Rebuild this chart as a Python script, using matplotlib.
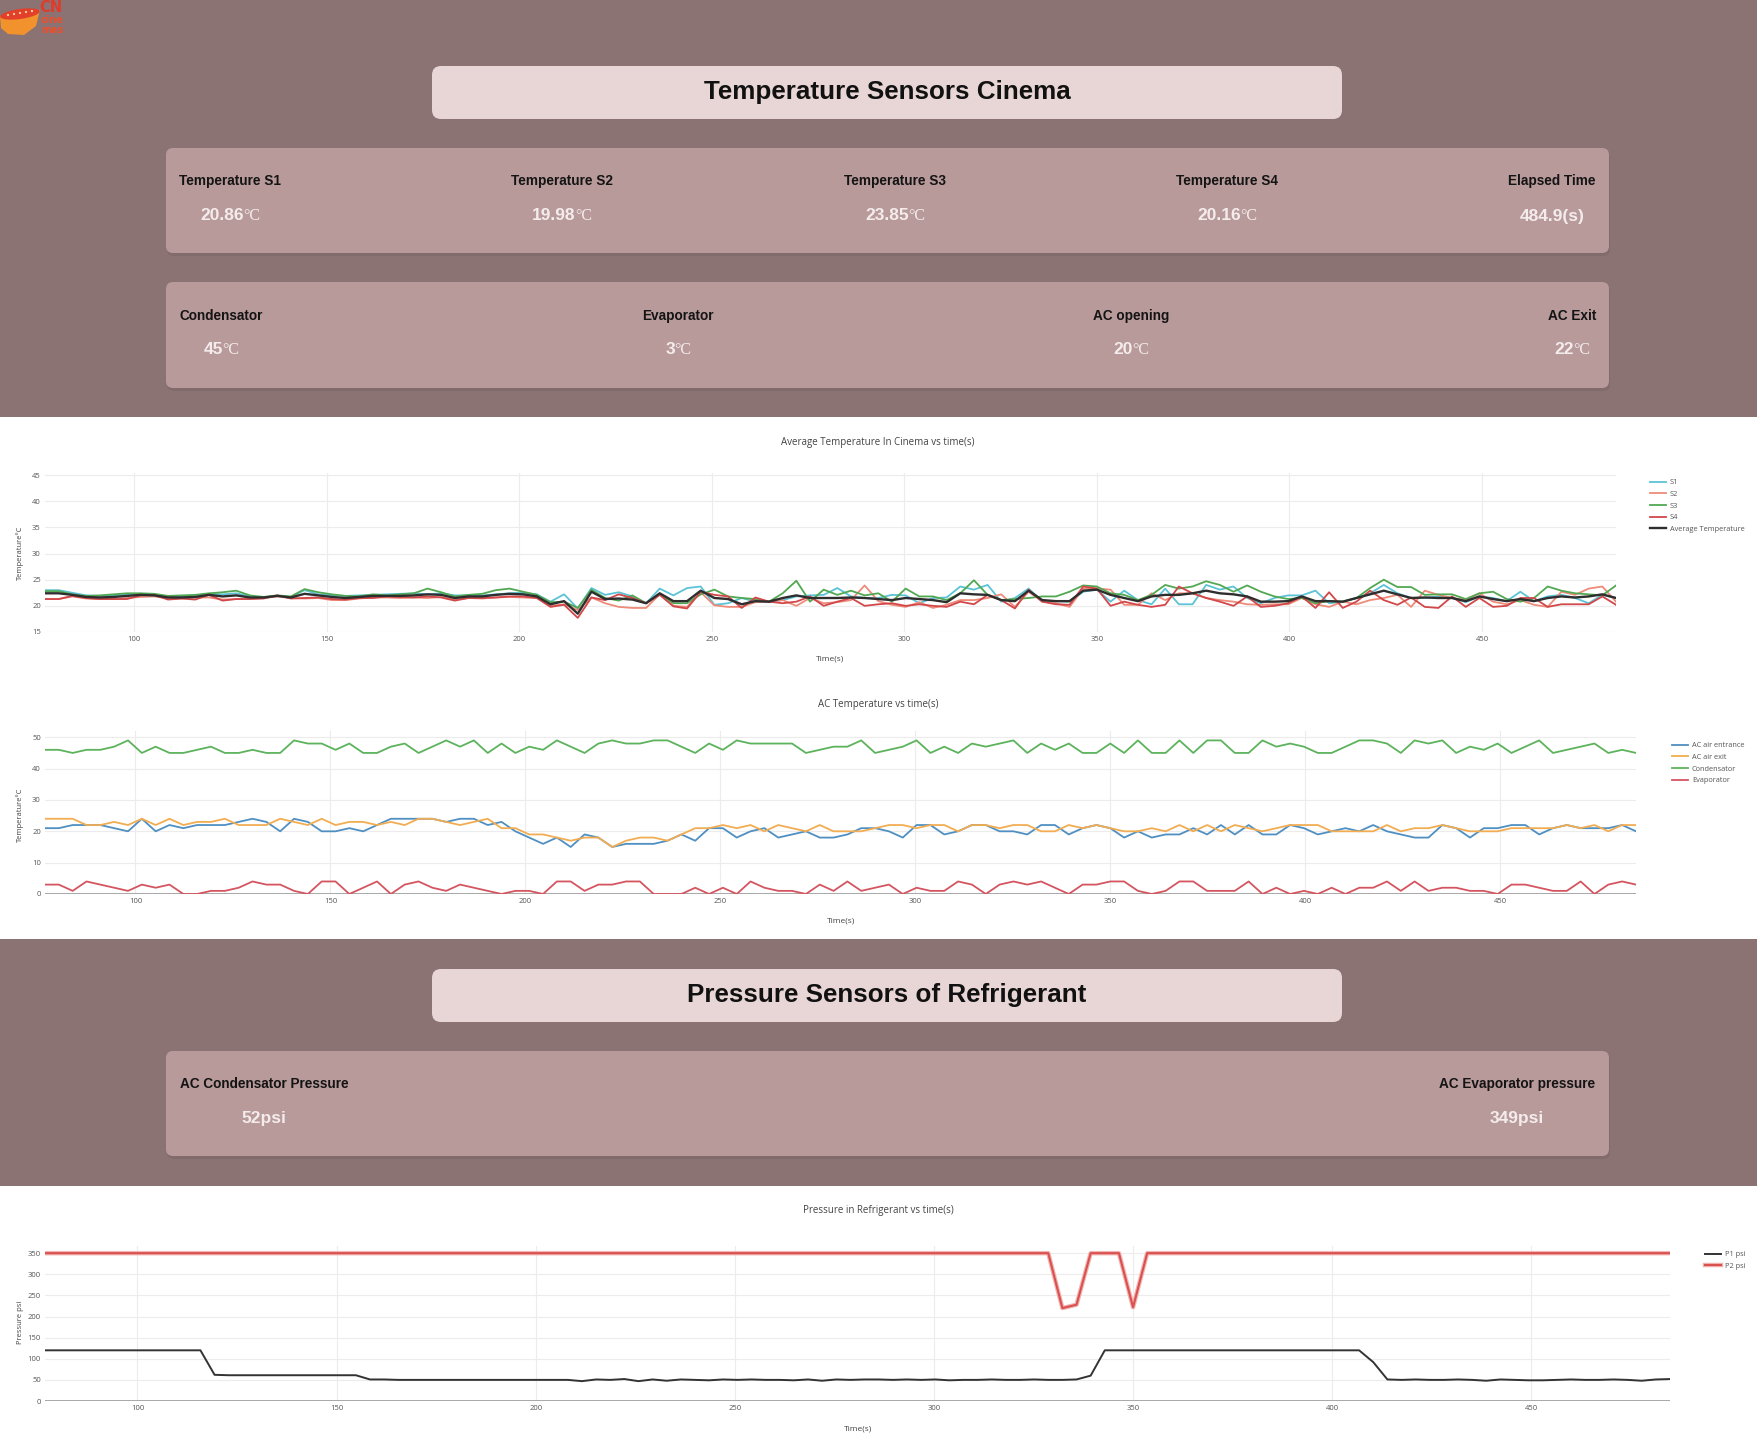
"""Cinema AC monitoring dashboard: sensor cards plus three time-series panels."""
import matplotlib
matplotlib.use("Agg")
import matplotlib.pyplot as plt
import matplotlib.patheffects as pe
import numpy as np
from matplotlib.patches import FancyBboxPatch, Polygon, Circle, Ellipse

W, H = 1757, 1447
BROWN = "#8b7373"
CARD = "#b99a9a"
TITLE_BOX = "#e8d5d5"
VALUE_COLOR = "#f4ecec"
AXIS_TEXT = "#555555"

# sample clock of the logger (s)
T_START, T_END, N_SAMPLES = 76.8, 484.8, 116
TIME_S = np.linspace(T_START, T_END, N_SAMPLES)
X_TICKS = [100, 150, 200, 250, 300, 350, 400, 450]

# header cards
TEMP_LABELS = ["Temperature S1", "Temperature S2", "Temperature S3", "Temperature S4", "Elapsed Time"]
TEMP_VALUES = ["20.86", "19.98", "23.85", "20.16", "484.9(s)"]
AC_LABELS = ["Condensator", "Evaporator", "AC opening", "AC Exit"]
AC_VALUES = ["45", "3", "20", "22"]
PRESSURE_LABELS = ["AC Condensator Pressure", "AC Evaporator pressure"]
PRESSURE_VALUES = ["52psi", "349psi"]

# cinema temperature sensors (degC)
S1 = [23.0, 23.0, 22.5, 22.0, 21.9, 22.0, 22.2, 22.3, 22.0, 21.8, 21.8, 22.0, 22.3, 22.2, 22.4, 21.8,
      21.6, 21.9, 21.7, 23.0, 22.2, 22.0, 21.9, 22.0, 22.1, 22.2, 22.3, 22.4, 22.2, 22.4, 22.0,
      22.0, 22.0, 22.2, 22.4, 22.5, 22.2, 20.8, 22.2, 19.5, 23.4, 22.1, 22.6, 21.8, 20.5, 23.3,
      22.0, 23.4, 23.7, 20.2, 20.5, 21.5, 20.8, 20.8, 21.1, 21.8, 22.0, 22.1, 23.4, 21.8,
      21.5, 21.5, 22.1, 22.0, 20.5, 21.5, 21.6, 23.7, 23.1, 24.0, 20.8, 21.5, 23.3, 20.9, 20.9,
      20.8, 22.7, 23.1, 20.8, 22.9, 21.1, 20.3, 23.3, 20.3, 20.3, 24.0, 23.1, 23.7, 21.5,
      20.5, 21.5, 22.0, 22.0, 22.9, 20.5, 20.8, 21.5, 22.4, 24.0, 22.4, 21.5, 21.5, 21.8, 21.5,
      20.7, 21.8, 21.5, 20.9, 22.7, 20.9, 21.8, 22.1, 21.5, 20.5, 22.1, 21.5]
S2 = [21.3, 21.3, 21.8, 21.4, 21.3, 21.3, 21.5, 21.7, 21.8, 21.4, 21.4, 21.6, 21.6, 21.2, 21.3, 21.4,
      21.5, 21.8, 21.5, 21.4, 21.5, 21.1, 21.1, 21.4, 21.6, 21.6, 21.5, 21.6, 21.5, 21.7, 21.2,
      21.5, 21.4, 21.6, 21.7, 21.6, 21.5, 20.0, 20.3, 19.2, 21.6, 20.5, 19.8, 19.6, 19.6, 22.2,
      20.0, 19.8, 22.6, 20.1, 19.8, 19.8, 20.7, 20.8, 21.1, 20.0, 21.5, 20.5, 20.7, 21.1,
      23.9, 20.9, 20.2, 19.8, 20.7, 19.6, 20.2, 21.1, 21.1, 21.5, 22.2, 19.8, 22.7, 20.8, 20.5,
      19.8, 23.3, 23.3, 23.1, 20.2, 20.2, 22.4, 21.1, 22.4, 22.4, 21.5, 21.1, 20.8, 20.3,
      20.2, 20.3, 20.3, 21.5, 20.3, 19.8, 20.8, 20.3, 21.1, 21.5, 22.1, 19.8, 22.9, 22.1, 21.5,
      21.1, 22.4, 20.8, 20.3, 21.1, 20.2, 19.8, 22.7, 22.1, 23.3, 23.7, 20.8]
S3 = [22.8, 22.8, 22.2, 21.9, 22.0, 22.2, 22.4, 22.4, 22.3, 21.9, 22.0, 22.1, 22.4, 22.6, 22.9, 22.0,
      21.7, 22.0, 21.8, 23.2, 22.6, 22.2, 21.9, 21.8, 22.2, 22.0, 22.2, 22.4, 23.3, 22.6, 21.8,
      22.1, 22.3, 23.0, 23.3, 22.7, 22.1, 20.7, 20.8, 19.6, 23.1, 21.5, 21.0, 22.0, 20.5, 22.2,
      20.5, 20.5, 22.2, 23.1, 21.8, 21.5, 21.3, 20.8, 22.4, 24.8, 20.8, 23.1, 22.1, 22.9,
      22.0, 22.4, 20.8, 23.3, 21.8, 21.8, 21.1, 22.4, 24.9, 22.1, 21.1, 21.3, 21.5, 21.8, 21.8,
      22.7, 23.9, 23.7, 22.4, 22.1, 21.1, 22.1, 24.0, 23.3, 23.7, 24.7, 24.0, 22.7, 23.9,
      22.7, 21.8, 21.3, 21.5, 20.5, 20.9, 20.8, 21.5, 23.4, 25.0, 23.6, 23.6, 22.1, 22.2, 22.2,
      21.3, 22.4, 22.7, 21.3, 20.8, 21.5, 23.7, 22.9, 22.4, 22.2, 22.0, 23.9]
S4 = [21.3, 21.3, 21.9, 21.5, 21.3, 21.3, 21.3, 22.0, 22.1, 21.2, 21.4, 21.2, 22.1, 21.0, 21.3, 21.3,
      21.4, 22.0, 21.4, 21.5, 21.6, 21.3, 21.2, 21.5, 21.5, 21.8, 21.7, 21.6, 21.8, 21.6, 21.0,
      21.5, 21.5, 21.6, 21.8, 21.8, 21.5, 19.8, 20.2, 17.7, 21.6, 21.1, 22.2, 21.5, 20.5, 22.1,
      19.9, 19.5, 22.7, 22.1, 21.8, 19.6, 21.6, 20.8, 20.5, 20.8, 21.8, 20.0, 20.8, 21.5,
      20.0, 20.3, 20.5, 20.0, 20.3, 20.0, 19.8, 20.8, 20.3, 22.1, 21.1, 19.5, 23.1, 20.8, 20.3,
      20.2, 23.7, 23.3, 20.0, 20.8, 20.2, 19.8, 20.2, 23.7, 22.4, 21.5, 20.8, 20.0, 21.8,
      19.8, 20.0, 20.5, 21.8, 19.6, 22.6, 19.6, 20.8, 22.9, 21.1, 20.2, 21.6, 19.8, 19.6, 21.8,
      19.8, 21.5, 19.8, 20.0, 21.5, 21.5, 19.8, 20.3, 20.3, 20.3, 21.8, 20.2]
AVG_TEMP = [22.4, 22.4, 22.1, 21.7, 21.6, 21.7, 21.9, 22.1, 22.0, 21.6, 21.6, 21.7, 22.1, 21.8, 22.0,
            21.6, 21.6, 21.9, 21.6, 22.3, 22.0, 21.7, 21.5, 21.7, 21.9, 21.9, 21.9, 22.0, 22.2, 22.1,
            21.5, 21.8, 21.8, 22.1, 22.3, 22.2, 21.8, 20.3, 20.9, 18.5, 22.7, 21.3, 21.4, 21.2, 20.5,
            22.4, 20.9, 20.9, 22.9, 21.5, 21.3, 20.3, 20.9, 20.8, 21.5, 22.0, 21.5, 21.5, 21.5, 21.6,
            21.5, 21.3, 21.1, 21.5, 21.3, 21.1, 20.7, 22.4, 22.2, 22.1, 21.1, 20.9, 22.9, 21.1, 20.9,
            20.9, 22.9, 23.1, 22.1, 21.5, 20.9, 21.8, 22.1, 22.1, 22.4, 22.9, 22.4, 22.2, 21.8,
            20.8, 20.8, 20.9, 21.8, 20.9, 20.9, 20.8, 21.5, 22.2, 22.9, 22.2, 21.5, 21.6, 21.5, 21.5,
            20.9, 21.8, 21.3, 20.9, 21.3, 20.9, 21.5, 21.8, 21.6, 21.8, 22.2, 21.5]

# AC unit temperatures (degC)
AC_ENTRANCE = [21, 21, 22, 22, 22, 21, 20, 24, 20, 22, 21, 22, 22, 22, 23, 24, 23, 20, 24, 23,
               20, 20, 21, 20, 22, 24, 24, 24, 24, 23, 24, 24, 22, 23, 20, 18, 16, 18, 15, 19,
               18, 15, 16, 16, 16, 17, 19, 17, 21, 21, 18, 20, 21, 18, 19, 20, 18, 18, 19, 21,
               21, 20,
               18, 22, 22, 19, 20, 22, 22, 20, 20, 19, 22, 22, 19, 21, 22, 21, 18, 20, 18, 19,
               19, 21, 19, 22, 19, 22, 19, 19, 22, 21, 19, 20, 21, 20, 22, 20, 19, 18, 18, 22,
               21, 18, 21, 21, 22, 22, 19, 21, 22, 21, 21, 21, 22, 20]
AC_EXIT = [24, 24, 24, 22, 22, 23, 22, 24, 22, 24, 22, 23, 23, 24, 22, 22, 22, 24, 23, 22,
           24, 22, 23, 23, 22, 23, 22, 24, 24, 23, 22, 23, 24, 21, 21, 19, 19, 18, 17, 18,
           18, 15, 17, 18, 18, 17, 19, 21, 21, 22, 21, 22, 20, 22, 21, 20, 22, 20, 20, 20,
           21, 22,
           22, 21, 22, 22, 20, 22, 22, 21, 22, 22, 20, 20, 22, 21, 22, 21, 20, 20, 21, 20,
           22, 20, 22, 20, 22, 21, 20, 21, 22, 22, 22, 20, 20, 20, 20, 22, 20, 21, 21, 22,
           21, 20, 20, 20, 21, 21, 21, 21, 22, 21, 22, 20, 22, 22]
CONDENSATOR = [46, 46, 45, 46, 46, 47, 49, 45, 47, 45, 45, 46, 47, 45, 45, 46, 45, 45, 49, 48,
               48, 46, 48, 45, 45, 47, 48, 45, 47, 49, 47, 49, 45, 48, 45, 47, 46, 49, 47, 45,
               48, 49, 48, 48, 49, 49, 47, 45, 48, 46, 49, 48, 48, 48, 48, 45, 46, 47, 47, 49,
               45, 46,
               47, 49, 45, 47, 45, 48, 47, 48, 49, 45, 48, 46, 48, 45, 45, 48, 45, 49, 45, 45,
               49, 45, 49, 49, 45, 45, 49, 47, 48, 47, 45, 45, 47, 49, 49, 48, 45, 49, 48, 49,
               45, 47, 46, 48, 45, 47, 49, 45, 46, 47, 48, 45, 46, 45]
EVAPORATOR = [3, 3, 1, 4, 3, 2, 1, 3, 2, 3, 0, 0, 1, 1, 2, 4, 3, 3, 1, 0,
              4, 4, 0, 2, 4, 0, 3, 4, 2, 1, 3, 2, 1, 0, 1, 1, 0, 4, 4, 1,
              3, 3, 4, 4, 0, 0, 0, 2, 0, 2, 0, 4, 2, 1, 1, 0, 3, 1, 4, 1,
              2, 3,
              0, 2, 1, 1, 4, 3, 0, 3, 4, 3, 4, 2, 0, 3, 3, 4, 4, 1, 0, 1,
              4, 4, 1, 1, 1, 4, 0, 2, 0, 1, 0, 2, 0, 2, 2, 4, 1, 4, 1, 2,
              2, 1, 1, 0, 3, 3, 2, 1, 1, 4, 0, 3, 4, 3]

# refrigerant pressure (psi)
P1_PSI = ([120.0] * 12 + [62.0] + [61.0] * 10 + [51.0] +
          [51, 50, 50, 50, 50, 50, 50, 50, 50, 50, 50, 50, 50, 50] +
          [47, 51, 50, 52, 47, 51, 48, 51, 50, 49, 51, 50, 51, 50, 50, 49, 51, 48, 51, 50,
           51, 51, 50, 51, 50, 51, 49, 50, 50, 51, 50, 50, 51, 50, 50] +
          [51, 60] + [120.0] * 19 + [92, 51] +
          [50, 51, 50, 50, 51, 50, 48, 51, 50, 49, 49, 50, 51, 50, 50, 51, 50, 48, 51, 52])
P2_PSI = [350.0] * 72 + [220.0, 228.0] + [350.0] * 3 + [222.0] + [350.0] * 38


def px_axes(fig, left, top, right, bottom):
    return fig.add_axes([left / W, 1 - bottom / H, (right - left) / W, (bottom - top) / H])


def box(ax, x0, y0, x1, y1, color, radius=7, shadow=True):
    if shadow:
        ax.add_patch(FancyBboxPatch((x0 + 1, y0 + 3), x1 - x0, y1 - y0,
                                    boxstyle=f"round,pad=0,rounding_size={radius}",
                                    fc="#7a6464", ec="none", alpha=0.5))
    ax.add_patch(FancyBboxPatch((x0, y0), x1 - x0, y1 - y0,
                                boxstyle=f"round,pad=0,rounding_size={radius}",
                                fc=color, ec="none"))


def card_value(ax, x, y, value, unit=None):
    kw = dict(color=VALUE_COLOR, fontsize=12.5, fontweight="bold", family="Liberation Sans", va="center")
    if unit is None:
        ax.text(x, y, value, ha="center", **kw)
        return
    num = ax.text(x - 8, y, value, ha="center", **kw)
    ax.annotate(unit, xy=(1, 0.5), xycoords=num, xytext=(-0.5, 0), textcoords="offset points",
                ha="left", va="center", color=VALUE_COLOR, fontsize=11.5, family="Liberation Serif")


def style_chart(ax, ylim, yticks, zero_line):
    ax.set_facecolor("none")
    ax.set_xlim(TIME_S[0], TIME_S[-1])
    ax.set_ylim(*ylim)
    ax.set_xticks(X_TICKS)
    ax.set_yticks(yticks)
    ax.grid(True, color="#ececec", lw=0.8)
    ax.set_axisbelow(True)
    for spine in ax.spines.values():
        spine.set_visible(False)
    ax.tick_params(length=0, labelsize=5.5, labelcolor=AXIS_TEXT, pad=3)
    for lab in ax.get_xticklabels() + ax.get_yticklabels():
        lab.set_family("Open Sans")
    if zero_line:
        ax.axhline(0, color="#a8a8a8", lw=1.4, zorder=1)


def chart_legend(ax, fig, x, y):
    leg = ax.legend(loc="upper left", bbox_to_anchor=(x / W, 1 - y / H), bbox_transform=fig.transFigure,
                    frameon=False, handlelength=2.2, handletextpad=0.5,
                    labelspacing=0.62, borderaxespad=0, borderpad=0, prop={"family": "Open Sans", "size": 5.3})
    for txt in leg.get_texts():
        txt.set_color(AXIS_TEXT)


def main():
    fig = plt.figure(figsize=(W / 100, H / 100), dpi=100)
    fig.patch.set_facecolor("white")

    bg = fig.add_axes([0, 0, 1, 1])
    bg.set_xlim(0, W)
    bg.set_ylim(H, 0)
    bg.axis("off")

    # page bands
    bg.add_patch(plt.Rectangle((0, 0), W, 417, fc=BROWN, ec="none"))
    bg.add_patch(plt.Rectangle((0, 939), W, 247, fc=BROWN, ec="none"))

    # logo
    bg.add_patch(Polygon([(0, 16), (40, 10), (36, 26), (24, 35), (8, 34), (1, 28)], closed=True,
                         fc="#f2922c", ec="none"))
    bg.add_patch(Ellipse((20, 14), 40, 10, angle=-8, fc="#e2402a", ec="none"))
    for cx, cy in [(8, 15), (14, 14), (20, 13), (26, 12), (32, 11)]:
        bg.add_patch(Circle((cx, cy), 1.1, fc="#ffd9a0", ec="none"))
    bg.text(51, 8, "CN", color="#e23a2a", fontsize=10.5, fontweight="bold", ha="center", va="center")
    bg.text(52, 20, "cine", color="#ea4f2c", fontsize=7, fontweight="bold", ha="center", va="center")
    bg.text(52, 30, "mas", color="#ea4f2c", fontsize=7, fontweight="bold", ha="center", va="center")

    # temperature header
    box(bg, 432, 66, 1342, 119, TITLE_BOX, radius=9, shadow=False)
    bg.text(887, 92, "Temperature Sensors Cinema", ha="center", va="center", fontsize=18.7,
            fontweight="bold", family="Liberation Sans", color="#111111")

    box(bg, 166, 148, 1609, 253, CARD)
    for cx, label, value in zip([230, 562, 895, 1227, 1552], TEMP_LABELS, TEMP_VALUES):
        bg.text(cx, 181, label, ha="center", va="center", fontsize=9.8, fontweight="bold",
                family="Liberation Sans", color="#141414")
        card_value(bg, cx, 216, value, None if value.endswith("(s)") else "°C")

    box(bg, 166, 282, 1609, 388, CARD)
    for cx, label, value in zip([221, 678, 1131, 1572], AC_LABELS, AC_VALUES):
        bg.text(cx, 316, label, ha="center", va="center", fontsize=9.8, fontweight="bold",
                family="Liberation Sans", color="#141414")
        card_value(bg, cx, 350, value, "°C")

    # pressure header
    box(bg, 432, 969, 1342, 1022, TITLE_BOX, radius=9, shadow=False)
    bg.text(887, 995, "Pressure Sensors of Refrigerant", ha="center", va="center", fontsize=18.7,
            fontweight="bold", family="Liberation Sans", color="#111111")

    box(bg, 166, 1051, 1609, 1156, CARD)
    for cx, label, value in zip([264, 1517], PRESSURE_LABELS, PRESSURE_VALUES):
        bg.text(cx, 1084, label, ha="center", va="center", fontsize=9.8, fontweight="bold",
                family="Liberation Sans", color="#141414")
        card_value(bg, cx, 1119, value)

    text_kw = dict(color="#444444", family="Open Sans", ha="center", va="center")

    # chart 1: cinema sensors
    ax1 = px_axes(fig, 45, 473, 1616, 632)
    style_chart(ax1, (15, 45.4), [15, 20, 25, 30, 35, 40, 45], zero_line=False)
    ax1.plot(TIME_S, S1, color="#5bc3d6", lw=1.3, label="S1")
    ax1.plot(TIME_S, S2, color="#ee8b7a", lw=1.3, label="S2")
    ax1.plot(TIME_S, S3, color="#52a852", lw=1.3, label="S3")
    ax1.plot(TIME_S, S4, color="#d2474a", lw=1.3, label="S4")
    ax1.plot(TIME_S, AVG_TEMP, color="#2e2e2e", lw=1.7, label="Average Temperature")
    chart_legend(ax1, fig, 1650, 479)
    bg.text(878, 442, "Average Temperature In Cinema vs time(s)", fontsize=7, **text_kw)
    bg.text(830, 659, "Time(s)", fontsize=6, **text_kw)
    bg.text(20, 553, "Temperature°C", fontsize=5.5, rotation=90, **text_kw)

    # chart 2: AC unit
    ax2 = px_axes(fig, 45, 731, 1636, 894)
    style_chart(ax2, (0, 52), [0, 10, 20, 30, 40, 50], zero_line=True)
    ax2.plot(TIME_S, AC_ENTRANCE, color="#4f8fc2", lw=1.3, label="AC air entrance")
    ax2.plot(TIME_S, AC_EXIT, color="#f2ad52", lw=1.3, label="AC air exit")
    ax2.plot(TIME_S, CONDENSATOR, color="#5cb35c", lw=1.3, label="Condensator")
    ax2.plot(TIME_S, EVAPORATOR, color="#d45560", lw=1.3, label="Evaporator")
    chart_legend(ax2, fig, 1672, 742)
    bg.text(878, 704, "AC Temperature vs time(s)", fontsize=7, **text_kw)
    bg.text(841, 921, "Time(s)", fontsize=6, **text_kw)
    bg.text(20, 815, "Temperature°C", fontsize=5.5, rotation=90, **text_kw)

    # chart 3: refrigerant pressure
    ax3 = px_axes(fig, 45, 1246, 1670, 1401)
    style_chart(ax3, (0, 367), [0, 50, 100, 150, 200, 250, 300, 350], zero_line=True)
    ax3.plot(TIME_S, P1_PSI, color="#333333", lw=1.4, label="P1 psi")
    ax3.plot(TIME_S, P2_PSI, color="#d9504f", lw=1.5, label="P2 psi",
             path_effects=[pe.Stroke(linewidth=3.2, foreground="#f0b4b2"), pe.Normal()])
    chart_legend(ax3, fig, 1705, 1251)
    bg.text(878, 1211, "Pressure in Refrigerant vs time(s)", fontsize=7, **text_kw)
    bg.text(858, 1429, "Time(s)", fontsize=6, **text_kw)
    bg.text(20, 1322, "Pressure psi", fontsize=5.5, rotation=90, **text_kw)

    fig.savefig("out.png", dpi=100, facecolor=fig.get_facecolor())
    plt.close(fig)


if __name__ == "__main__":
    main()
